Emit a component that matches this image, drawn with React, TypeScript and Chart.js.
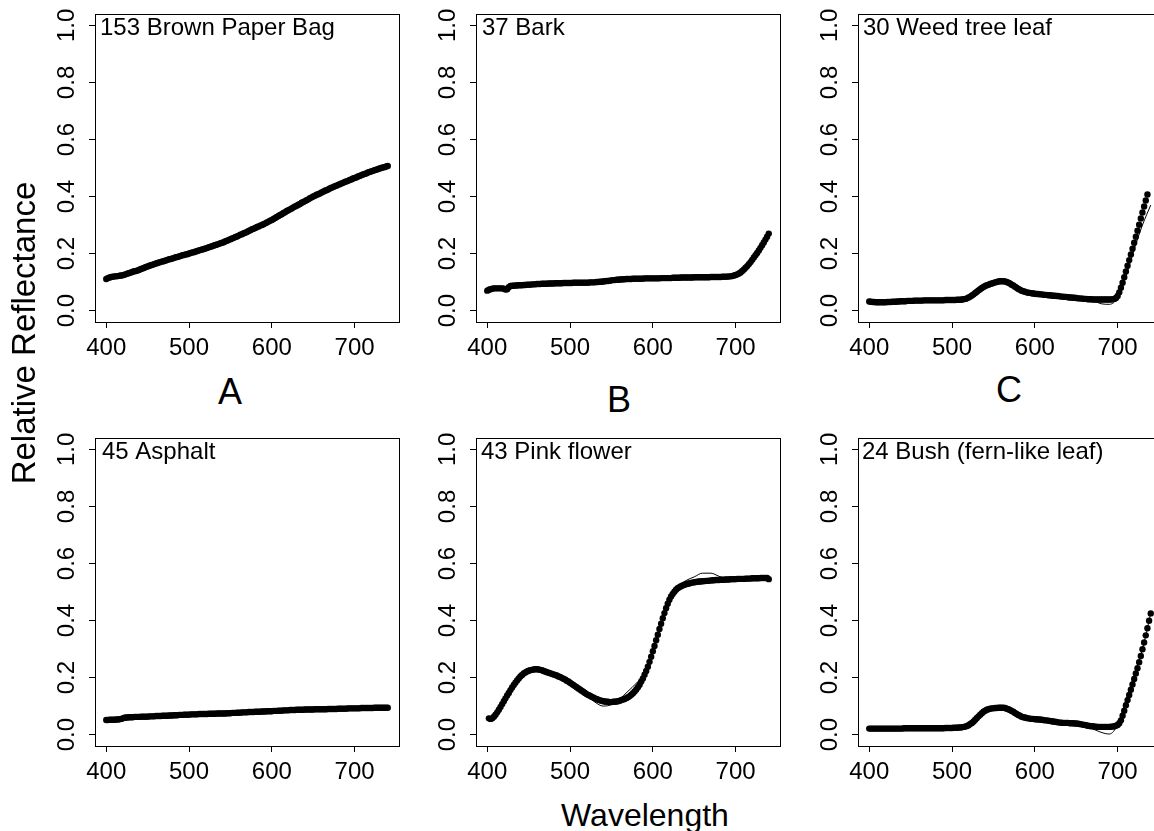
import React, { useEffect, useRef } from "react";
import { Chart, registerables } from "chart.js";

Chart.register(...registerables);

const FONT = "'Liberation Sans', Arial, Helvetica, sans-serif";

// ---------- data ----------
const wavelengths = [
  400, 402, 404, 406, 408, 410, 412, 414, 416, 418,
  420, 422, 424, 426, 428, 430, 432, 434, 436, 438,
  440, 442, 444, 446, 448, 450, 452, 454, 456, 458,
  460, 462, 464, 466, 468, 470, 472, 474, 476, 478,
  480, 482, 484, 486, 488, 490, 492, 494, 496, 498,
  500, 502, 504, 506, 508, 510, 512, 514, 516, 518,
  520, 522, 524, 526, 528, 530, 532, 534, 536, 538,
  540, 542, 544, 546, 548, 550, 552, 554, 556, 558,
  560, 562, 564, 566, 568, 570, 572, 574, 576, 578,
  580, 582, 584, 586, 588, 590, 592, 594, 596, 598,
  600, 602, 604, 606, 608, 610, 612, 614, 616, 618,
  620, 622, 624, 626, 628, 630, 632, 634, 636, 638,
  640, 642, 644, 646, 648, 650, 652, 654, 656, 658,
  660, 662, 664, 666, 668, 670, 672, 674, 676, 678,
  680, 682, 684, 686, 688, 690, 692, 694, 696, 698,
  700, 702, 704, 706, 708, 710, 712, 714, 716, 718,
  720, 722, 724, 726, 728, 730, 732, 734, 736, 738,
  740,
];

const fitWavelengths = [
  400, 410, 420, 430, 440, 450, 460, 470, 480, 490,
  500, 510, 520, 530, 540, 550, 560, 570, 580, 590,
  600, 610, 620, 630, 640, 650, 660, 670, 680, 690,
  700, 710, 720, 730, 740,
];

const brownPaperBag = [
  .111, .114, .116, .118, .119, .120, .120, .121, .122, .123,
  .124, .126, .128, .130, .132, .134, .136, .138, .139, .141,
  .143, .146, .148, .150, .153, .155, .157, .159, .161, .163,
  .165, .167, .169, .171, .172, .174, .176, .178, .180, .181,
  .183, .185, .187, .188, .190, .192, .194, .195, .197, .198,
  .200, .202, .204, .205, .207, .209, .211, .213, .214, .216,
  .218, .220, .222, .224, .226, .228, .230, .232, .234, .236,
  .238, .240, .243, .245, .248, .250, .253, .255, .258, .260,
  .263, .266, .268, .271, .273, .276, .279, .282, .285, .287,
  .290, .293, .295, .298, .300, .303, .306, .309, .312, .315,
  .318, .321, .325, .328, .332, .335, .338, .342, .345, .349,
  .352, .355, .358, .362, .365, .368, .371, .374, .378, .381,
  .384, .387, .390, .394, .397, .400, .403, .406, .408, .411,
  .414, .417, .420, .422, .425, .428, .431, .433, .436, .438,
  .441, .443, .446, .448, .451, .453, .455, .458, .460, .463,
  .465, .467, .470, .472, .475, .477, .479, .481, .484, .486,
  .488, .490, .492, .494, .496, .498, .500, .502, .503, .505,
  .507,
];
const brownPaperBagFit = [
  .111, .120, .124, .134, .143, .155, .165, .174, .183, .192,
  .200, .209, .218, .228, .238, .250, .263, .276, .290, .303,
  .318, .335, .352, .368, .384, .400, .414, .428, .441, .453,
  .465, .477, .488, .498, .507,
];

const bark = [
  .070, .073, .075, .077, .078, .078, .078, .078, .078, .078,
  .077, .074, .075, .082, .086, .087, .087, .088, .088, .089,
  .089, .089, .090, .090, .091, .091, .091, .092, .092, .092,
  .093, .093, .093, .094, .094, .094, .094, .095, .095, .095,
  .095, .096, .096, .096, .096, .096, .097, .097, .097, .097,
  .097, .097, .098, .098, .098, .098, .098, .098, .098, .098,
  .098, .098, .099, .099, .099, .099, .100, .100, .101, .101,
  .102, .103, .104, .104, .105, .106, .107, .107, .108, .108,
  .109, .109, .110, .110, .111, .111, .111, .111, .112, .112,
  .112, .112, .112, .112, .112, .113, .113, .113, .113, .113,
  .113, .113, .113, .113, .113, .114, .114, .114, .114, .114,
  .114, .114, .115, .115, .115, .115, .115, .116, .116, .116,
  .116, .116, .116, .116, .116, .117, .117, .117, .117, .117,
  .117, .117, .117, .117, .117, .118, .118, .118, .118, .118,
  .118, .118, .119, .119, .119, .119, .120, .120, .121, .123,
  .125, .127, .130, .134, .139, .144, .150, .156, .163, .170,
  .178, .186, .194, .202, .211, .220, .229, .239, .249, .259,
  .270,
];
const barkFit = [
  .072, .078, .077, .086, .089, .091, .093, .094, .095, .096,
  .097, .098, .098, .099, .102, .106, .109, .111, .112, .113,
  .113, .114, .114, .115, .116, .117, .117, .118, .118, .119,
  .124, .145, .178, .220, .270,
];

const weedTreeLeaf = [
  .032, .031, .030, .030, .029, .029, .029, .029, .029, .029,
  .029, .030, .030, .030, .031, .031, .031, .032, .032, .033,
  .033, .033, .033, .034, .034, .034, .034, .035, .035, .035,
  .035, .035, .035, .036, .036, .036, .036, .036, .036, .036,
  .036, .036, .036, .036, .036, .036, .037, .037, .037, .037,
  .037, .037, .037, .038, .038, .038, .039, .040, .041, .043,
  .046, .049, .053, .057, .062, .066, .071, .075, .079, .083,
  .086, .089, .091, .093, .095, .097, .099, .100, .102, .103,
  .103, .103, .102, .100, .098, .095, .091, .088, .084, .080,
  .076, .073, .070, .068, .066, .064, .063, .062, .061, .060,
  .059, .058, .058, .057, .057, .056, .055, .055, .054, .054,
  .053, .052, .052, .051, .051, .050, .049, .049, .048, .048,
  .047, .046, .046, .045, .045, .044, .043, .043, .042, .042,
  .041, .041, .040, .040, .040, .039, .039, .039, .039, .039,
  .039, .039, .039, .039, .039, .039, .039, .040, .041, .044,
  .051, .064, .080, .098, .117, .137, .157, .177, .197, .217,
  .238, .259, .280, .301, .323, .344, .365, .386, .407, null,
  null,
];
const weedTreeLeafFit = [
  .031, .030, .029, .031, .033, .034, .035, .036, .036, .036,
  .036, .038, .045, .066, .086, .097, .102, .094, .076, .064,
  .060, .057, .054, .052, .049, .046, .042, .035, .024, .022,
  .045, .120, .215, .300, .370,
];

const asphalt = [
  .051, .051, .052, .052, .052, .052, .053, .053, .054, .055,
  .057, .059, .060, .060, .061, .061, .061, .062, .062, .062,
  .062, .063, .063, .063, .063, .063, .064, .064, .064, .064,
  .065, .065, .065, .065, .066, .066, .066, .066, .067, .067,
  .067, .068, .068, .068, .069, .069, .069, .070, .070, .070,
  .070, .071, .071, .071, .071, .071, .072, .072, .072, .072,
  .072, .072, .073, .073, .073, .073, .073, .074, .074, .074,
  .074, .074, .074, .075, .075, .075, .076, .076, .076, .077,
  .077, .077, .078, .078, .078, .078, .079, .079, .079, .079,
  .080, .080, .080, .080, .081, .081, .081, .082, .082, .082,
  .082, .083, .083, .083, .084, .084, .084, .085, .085, .085,
  .085, .086, .086, .086, .086, .087, .087, .087, .087, .087,
  .088, .088, .088, .088, .088, .088, .089, .089, .089, .089,
  .089, .089, .089, .089, .090, .090, .090, .090, .090, .090,
  .091, .091, .091, .091, .091, .091, .092, .092, .092, .092,
  .092, .092, .092, .092, .093, .093, .093, .093, .093, .093,
  .093, .093, .094, .094, .094, .094, .094, .094, .094, .094,
  .094,
];
const asphaltFit = [
  .051, .052, .057, .061, .062, .063, .065, .066, .067, .069,
  .070, .071, .072, .073, .074, .075, .077, .078, .080, .081,
  .082, .084, .085, .087, .088, .088, .089, .090, .091, .091,
  .092, .093, .093, .094, .094,
];

const pinkFlower = [
  null, .057, .055, .057, .063, .070, .078, .087, .097, .107,
  .117, .127, .137, .146, .156, .165, .174, .182, .190, .197,
  .204, .209, .214, .218, .221, .224, .226, .227, .228, .229,
  .229, .228, .227, .226, .223, .221, .219, .217, .215, .213,
  .211, .209, .207, .204, .202, .199, .196, .193, .189, .186,
  .182, .178, .174, .170, .166, .162, .158, .154, .150, .146,
  .142, .139, .136, .133, .130, .127, .125, .122, .120, .119,
  .117, .116, .115, .115, .114, .114, .115, .115, .116, .117,
  .119, .121, .123, .125, .128, .131, .135, .140, .145, .151,
  .158, .166, .175, .186, .197, .210, .223, .238, .255, .273,
  .292, .311, .331, .350, .370, .389, .408, .426, .443, .459,
  .473, .484, .493, .501, .508, .513, .517, .520, .523, .525,
  .527, .529, .530, .532, .533, .534, .535, .536, .537, .537,
  .538, .538, .539, .539, .540, .540, .541, .541, .542, .542,
  .542, .543, .543, .543, .544, .544, .544, .545, .545, .545,
  .545, .546, .546, .546, .546, .546, .547, .547, .547, .547,
  .548, .548, .548, .548, .548, .549, .549, .549, .549, .549,
  .545,
];
const pinkFlowerFit = [
  .058, .068, .118, .166, .205, .224, .228, .222, .211, .198,
  .180, .158, .138, .114, .100, .105, .125, .152, .180, .215,
  .290, .390, .470, .518, .540, .553, .566, .566, .555, .545,
  .538, .538, .543, .548, .551,
];

const bushFernLeaf = [
  .021, .021, .021, .021, .021, .021, .021, .021, .021, .021,
  .021, .021, .021, .021, .021, .021, .021, .021, .021, .021,
  .021, .022, .022, .022, .022, .022, .022, .022, .022, .022,
  .022, .022, .022, .022, .022, .022, .022, .022, .022, .022,
  .022, .022, .022, .022, .022, .022, .023, .023, .023, .023,
  .023, .024, .024, .024, .025, .025, .026, .027, .028, .030,
  .033, .037, .041, .046, .052, .058, .064, .070, .075, .080,
  .084, .087, .089, .091, .092, .092, .093, .093, .094, .094,
  .094, .094, .093, .091, .089, .086, .083, .080, .076, .072,
  .069, .066, .063, .061, .060, .058, .057, .056, .055, .055,
  .054, .054, .053, .053, .052, .051, .050, .050, .049, .048,
  .047, .046, .045, .044, .043, .042, .042, .041, .041, .041,
  .041, .040, .040, .040, .039, .039, .038, .037, .036, .035,
  .034, .033, .031, .030, .029, .029, .028, .028, .027, .027,
  .027, .027, .027, .027, .027, .027, .028, .028, .029, .031,
  .034, .040, .050, .066, .084, .103, .121, .139, .157, .176,
  .195, .214, .233, .254, .276, .299, .323, .348, .373, .399,
  .425,
];
const bushFernLeafFit = [
  .021, .021, .021, .021, .021, .022, .022, .022, .022, .022,
  .022, .024, .034, .058, .083, .092, .094, .087, .069, .058,
  .054, .051, .047, .042, .041, .038, .030, .020, .008, .002,
  .035, .120, .210, .300, .425,
];

const panelTitles = [
  "153 Brown Paper Bag",
  "37 Bark",
  "30 Weed tree leaf",
  "45 Asphalt",
  "43 Pink flower",
  "24 Bush (fern-like leaf)",
];
const columnLetters = ["A", "B", "C"];
const xTickValues = [400, 500, 600, 700];
const xTickLabels = ["400", "500", "600", "700"];
const yTickValues = [0, 0.2, 0.4, 0.6, 0.8, 1.0];
const yTickLabels = ["0.0", "0.2", "0.4", "0.6", "0.8", "1.0"];
const xAxisTitle = "Wavelength";
const yAxisTitle = "Relative Reflectance";

// ---------- layout ----------
const Y_AXIS_W = 70;
const X_AXIS_H = 44;
const PAD_TOP = 8;
const PAD_RIGHT = 6;
const BOX_W = 304;
const BOX_H = 308;
const CANVAS_W = Y_AXIS_W + BOX_W + PAD_RIGHT;
const CANVAS_H = PAD_TOP + BOX_H + X_AXIS_H;

type PanelProps = {
  title: string;
  values: (number | null)[];
  fit: number[];
  boxLeft: number;
  boxTop: number;
  titleOffset: number;
};

function Panel({ title, values, fit, boxLeft, boxTop, titleOffset }: PanelProps) {
  const ref = useRef<HTMLCanvasElement>(null);

  useEffect(() => {
    if (!ref.current) return;
    const boxPlugin = {
      id: "boxAndTitle",
      afterDraw(chart: any) {
        const { ctx, chartArea: a } = chart;
        ctx.save();
        ctx.strokeStyle = "#000";
        ctx.lineWidth = 1;
        ctx.strokeRect(Math.round(a.left) + 0.5, Math.round(a.top) + 0.5, Math.round(a.right - a.left), Math.round(a.bottom - a.top));
        ctx.fillStyle = "#000";
        ctx.font = `24px ${FONT}`;
        ctx.textAlign = "left";
        ctx.textBaseline = "alphabetic";
        ctx.fillText(title, a.left + titleOffset, a.top + 21);
        ctx.restore();
      },
    };

    const tickFont = { family: FONT, size: 24 };
    const grid = {
      display: true,
      drawOnChartArea: false,
      drawTicks: true,
      tickLength: 6,
      color: "#000",
      lineWidth: 1,
    };

    const chart = new Chart(ref.current, {
      type: "line",
      data: {
        datasets: [
          {
            data: wavelengths.map((w, i) => ({ x: w, y: values[i] })),
            showLine: false,
            pointRadius: 3.2,
            pointBackgroundColor: "#000",
            pointBorderColor: "#000",
            pointBorderWidth: 0,
            borderColor: "#000",
          },
          {
            data: fitWavelengths.map((w, i) => ({ x: w, y: fit[i] })),
            showLine: true,
            borderColor: "#000",
            borderWidth: 1,
            pointRadius: 0,
            cubicInterpolationMode: "monotone",
            fill: false,
          },
        ],
      },
      options: {
        responsive: false,
        animation: false,
        devicePixelRatio: 1,
        layout: { padding: { top: PAD_TOP, right: PAD_RIGHT, left: 0, bottom: 0 } },
        plugins: { legend: { display: false }, tooltip: { enabled: false } },
        scales: {
          x: {
            type: "linear",
            min: 386.4,
            max: 753.6,
            bounds: "data",
            afterBuildTicks: (s: any) => {
              s.ticks = xTickValues.map((v) => ({ value: v }));
            },
            ticks: {
              font: tickFont,
              color: "#000",
              padding: 6,
              minRotation: 0,
              maxRotation: 0,
              autoSkip: false,
              callback: (_v: any, i: number) => xTickLabels[i],
            },
            grid,
            border: { display: true, color: "#000", width: 1 },
            afterFit: (s: any) => {
              s.height = X_AXIS_H;
              s.paddingLeft = 0;
              s.paddingRight = 0;
            },
          },
          y: {
            type: "linear",
            min: -0.04,
            max: 1.04,
            bounds: "data",
            afterBuildTicks: (s: any) => {
              s.ticks = yTickValues.map((v) => ({ value: v }));
            },
            ticks: {
              font: tickFont,
              color: "#000",
              padding: 5,
              minRotation: 90,
              maxRotation: 90,
              crossAlign: "center",
              autoSkip: false,
              callback: (_v: any, i: number) => yTickLabels[i],
            },
            grid,
            border: { display: true, color: "#000", width: 1 },
            afterFit: (s: any) => {
              s.width = Y_AXIS_W;
              s.paddingTop = 0;
              s.paddingBottom = 0;
            },
          },
        },
      } as any,
      plugins: [boxPlugin],
    });
    return () => chart.destroy();
  }, [title, values, fit, titleOffset]);

  return (
    <canvas
      ref={ref}
      width={CANVAS_W}
      height={CANVAS_H}
      style={{
        position: "absolute",
        left: boxLeft - Y_AXIS_W,
        top: boxTop - PAD_TOP,
        width: CANVAS_W,
        height: CANVAS_H,
      }}
    />
  );
}

const seriesValues = [brownPaperBag, bark, weedTreeLeaf, asphalt, pinkFlower, bushFernLeaf];
const seriesFits = [brownPaperBagFit, barkFit, weedTreeLeafFit, asphaltFit, pinkFlowerFit, bushFernLeafFit];
const columnLefts = [95, 476, 858];
const rowTops = [14, 438];
const titleOffsets = [5, 6, 5, 7, 5, 4];
const letterPositions = [
  { x: 230, top: 371.5 },
  { x: 619, top: 379.5 },
  { x: 1009, top: 369.5 },
];

export default function App() {
  const textBase: React.CSSProperties = {
    position: "absolute",
    fontFamily: FONT,
    color: "#000",
    textAlign: "center",
    whiteSpace: "nowrap",
    height: 40,
    lineHeight: "40px",
  };
  return (
    <div
      style={{
        position: "fixed",
        left: 0,
        top: 0,
        width: 1154,
        height: 831,
        overflow: "hidden",
        background: "#fff",
      }}
    >
      {panelTitles.map((t, i) => (
        <Panel
          key={t}
          title={t}
          values={seriesValues[i]}
          fit={seriesFits[i]}
          boxLeft={columnLefts[i % 3]}
          boxTop={rowTops[Math.floor(i / 3)]}
          titleOffset={titleOffsets[i]}
        />
      ))}
      {columnLetters.map((l, i) => (
        <div
          key={l}
          style={{ ...textBase, fontSize: 36, width: 100, left: letterPositions[i].x - 50, top: letterPositions[i].top }}
        >
          {l}
        </div>
      ))}
      <div style={{ ...textBase, fontSize: 32, width: 400, left: 645 - 200, top: 795 }}>{xAxisTitle}</div>
      <div
        style={{
          ...textBase,
          fontSize: 33,
          width: 400,
          left: 23.7 - 200,
          top: 332.5 - 20,
          transform: "rotate(-90deg)",
        }}
      >
        {yAxisTitle}
      </div>
    </div>
  );
}
